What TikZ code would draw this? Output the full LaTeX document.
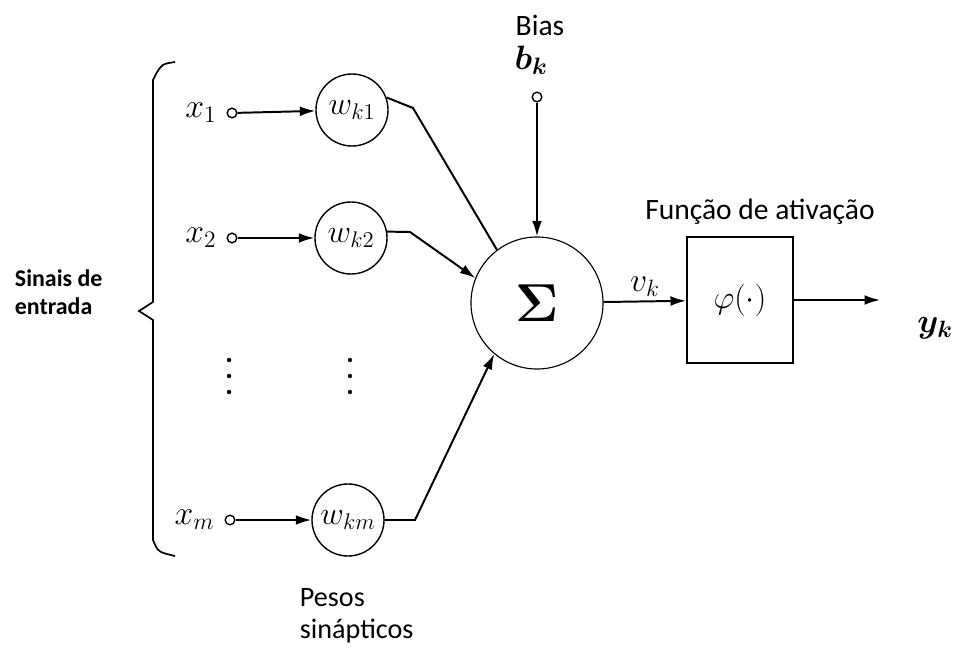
\RequirePackage{fix-cm}
\documentclass[tikz,border=0pt]{standalone}
\usepackage{amsmath}
\usepackage[no-math]{fontspec}
\setmainfont{Carlito}
\usetikzlibrary{positioning,arrows.meta}

\tikzset{
  term/.style={circle,draw,line width=1pt,fill=white,inner sep=0pt,minimum size=0.24cm},
  weight/.style={circle,draw,line width=1pt,inner sep=0pt,minimum size=1.8cm,font=\fontsize{23}{25}\selectfont},
  sumnode/.style={circle,draw,line width=0.8pt,inner sep=0pt,minimum size=3.3cm,font=\fontsize{38}{40}\selectfont},
  actbox/.style={rectangle,draw,line width=1.4pt,minimum width=2.65cm,minimum height=3.125cm,font=\fontsize{23}{25}\selectfont},
  sig/.style={font=\fontsize{24}{26}\selectfont,inner sep=1pt},
  caption/.style={font=\fontsize{21}{23}\selectfont,align=left},
  wire/.style={line width=1.4pt},
}

\begin{document}
\begin{tikzpicture}[x=0.025cm,y=-0.025cm,>={Latex[length=11pt,width=7pt]}]
	\useasboundingbox (0,0) rectangle (963,650);
	% entradas e pesos
	\node[term] (x1) at (232,113) {};
	\node[term] (x2) at (232,238) {};
	\node[term] (xm) at (230,520) {};
	\node[sig,left=6pt of x1] (lx1) {$x_1$};
	\node[sig,left=6pt of x2] (lx2) {$x_2$};
	\node[sig,left=6pt of xm] (lxm) {$x_m$};
	\node[weight] (w1) at (352,110) {$w_{k1}$};
	\node[weight] (w2) at (351,238) {$w_{k2}$};
	\node[weight] (wm) at (348,520) {$w_{km}$};
	\foreach \y in {360,376,392} {
		\fill (229,\y) circle (2.2);
		\fill (350,\y) circle (2.2);
	}
	% somador, bias e ativacao
	\node[sumnode] (sum) at (537,303) {$\mathbf{\Sigma}$};
	\node[term] (bk) at (537,97) {};
	\node[sig] (lbk) at (531,60) {$\boldsymbol{b_k}$};
	\node[caption] (bias) at (540,25) {Bias};
	\node[actbox] (act) at (740,300) {$\varphi(\cdot)$};
	\node[caption] (lact) at (760,212) {Função de ativação};
	\coordinate (out) at (880,300);
	\node[sig] (yk) at (935,328) {$\boldsymbol{y_k}$};
	% ligacoes
	\draw[wire,->] (x1) -- (w1);
	\draw[wire,->] (x2) -- (w2);
	\draw[wire,->] (xm) -- (wm);
	\draw[wire] (w1.20) -- (413,108) -- (sum.127);
	\draw[wire,->] (w2.10) -- (410,232) -- (sum.158);
	\draw[wire,->] (wm.east) -- (415,520) -- (sum.230);
	\draw[wire,->] (bk) -- (sum);
	\draw[wire,->] (sum) -- (act) node[sig,midway,above=2pt] {$v_k$};
	\draw[wire,->] (act) -- (out);
	% chave das entradas
	\draw[line width=1.2pt] (175,62) .. controls (162,64) .. (156,74) -- (153,80)
		-- (153,302) -- (139,311) -- (153,320) -- (153,540) .. controls (158,552) .. (175,556);
	\node[caption,font=\bfseries\fontsize{17}{20}\selectfont,anchor=west] (sinais) at (10,292) {Sinais de\\entrada};
	\node[caption,font=\fontsize{20}{23}\selectfont,anchor=west] (pesos) at (295,616) {Pesos\\sinápticos};
\end{tikzpicture}
\end{document}
